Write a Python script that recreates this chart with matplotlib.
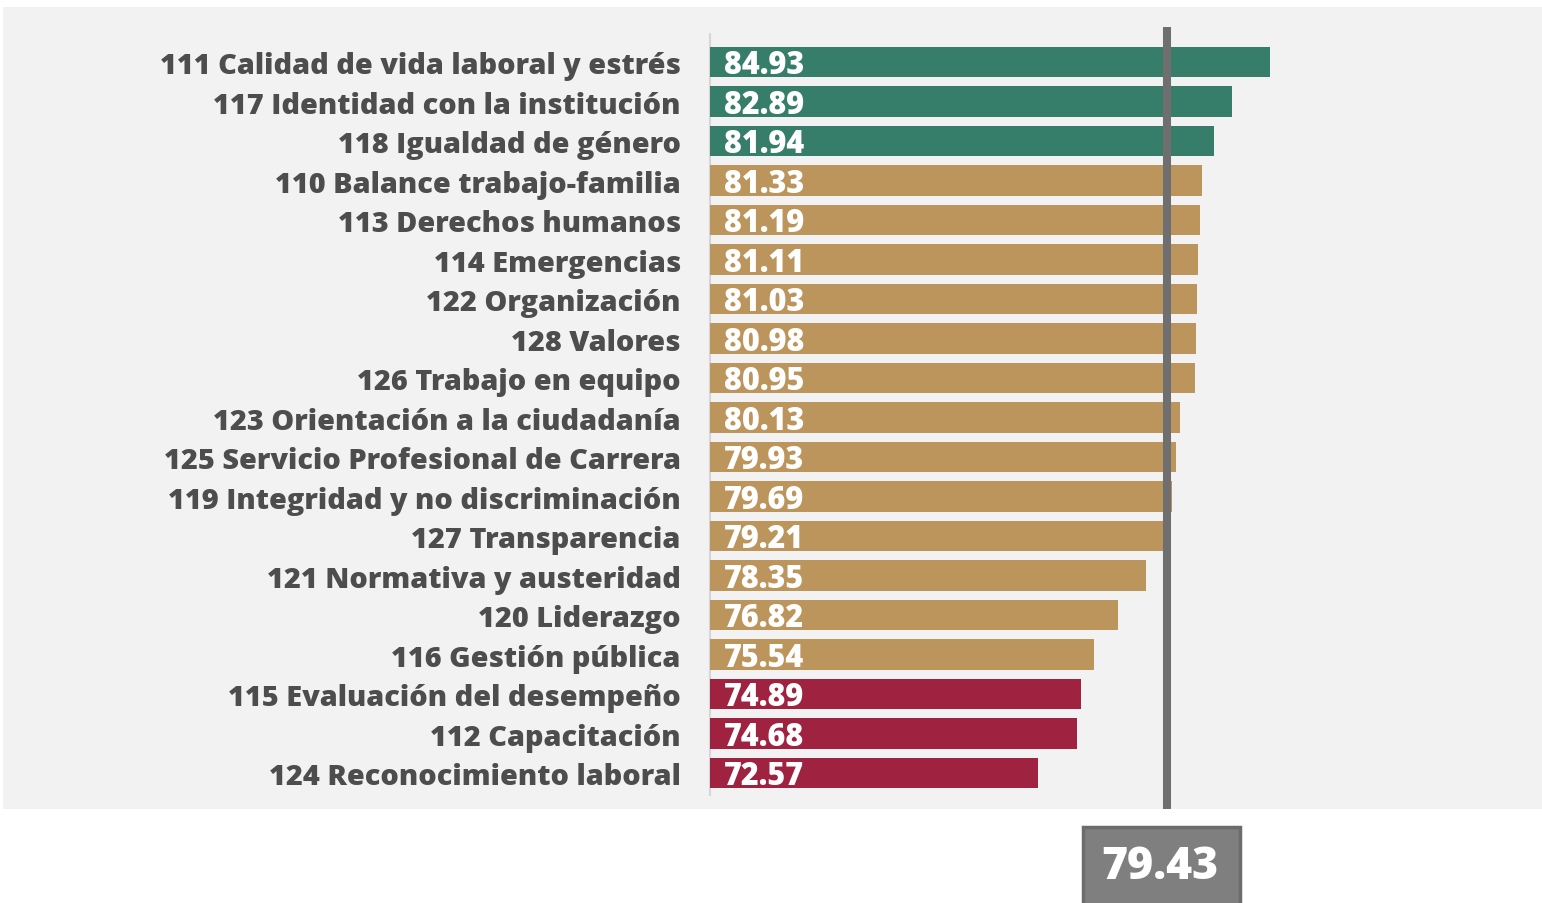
"""
Clima laboral: puntaje por factor, con el promedio general como linea de referencia.
"""

import matplotlib.pyplot as plt
from matplotlib.patches import Rectangle
from matplotlib.transforms import blended_transform_factory

# datos del grafico
factores = [
    "111 Calidad de vida laboral y estrés",
    "117 Identidad con la institución",
    "118 Igualdad de género",
    "110 Balance trabajo-familia",
    "113 Derechos humanos",
    "114 Emergencias",
    "122 Organización",
    "128 Valores",
    "126 Trabajo en equipo",
    "123 Orientación a la ciudadanía",
    "125 Servicio Profesional de Carrera",
    "119 Integridad y no discriminación",
    "127 Transparencia",
    "121 Normativa y austeridad",
    "120 Liderazgo",
    "116 Gestión pública",
    "115 Evaluación del desempeño",
    "112 Capacitación",
    "124 Reconocimiento laboral",
]
puntajes = [84.93, 82.89, 81.94, 81.33, 81.19, 81.11, 81.03, 80.98, 80.95,
            80.13, 79.93, 79.69, 79.21, 78.35, 76.82, 75.54, 74.89, 74.68, 72.57]
grupos = ["alto"] * 3 + ["medio"] * 13 + ["bajo"] * 3
promedio = 79.43

colores = {"alto": "#377e6a", "medio": "#bc955c", "bajo": "#9f2241"}
FUENTE = ["Open Sans", "DejaVu Sans"]

W, H = 1542, 904
fig = plt.figure(figsize=(W / 100, H / 100), dpi=100)
fig.patch.set_facecolor("white")

# panel gris de fondo
fig.patches.append(Rectangle((3 / W, 1 - 810 / H), (W - 3) / W, (810 - 8) / H,
                             transform=fig.transFigure, facecolor="#f2f2f2",
                             edgecolor="none", zorder=-10))

ax = fig.add_axes([710 / W, 1 - 810 / H, (W - 710) / W, (810 - 28) / H])
ax.set_facecolor("none")

y = list(range(len(factores)))
ax.barh(y, puntajes, height=0.78, color=[colores[g] for g in grupos], zorder=2)
ax.set_xlim(55.1, 99.43)
ax.set_ylim(18.91, -0.886)

# linea del eje izquierdo
ax.plot([55.1, 55.1], [-0.7, 18.55], color="#d6d6d6", lw=1.5, zorder=1, clip_on=False)

# linea del promedio
ax.axvline(promedio, color="#6f6f6f", lw=5.8, zorder=3)

for i, v in enumerate(puntajes):
    ax.text(55.1 + 0.75, i + 0.08, f"{v:.2f}", va="center", ha="left",
            color="white", fontsize=22, fontweight=800, family=FUENTE, zorder=4)

ax.set_yticks(y)
ax.set_yticklabels(factores, fontsize=20.8, fontweight=800, color="#4d4d4d",
                   family=FUENTE)
ax.tick_params(axis="y", length=0, pad=21)
ax.set_xticks([])
for s in ax.spines.values():
    s.set_visible(False)

# recuadro con el valor del promedio
tr = blended_transform_factory(ax.transData, ax.transAxes)
ax.add_patch(Rectangle((promedio - 4.45, -0.13), 8.36, 0.107, transform=tr,
                       facecolor="#7f7f7f", edgecolor="#6c6c6c", lw=2.5,
                       clip_on=False, zorder=5))
ax.text(promedio - 0.35, -0.074, f"{promedio:.2f}", transform=tr, ha="center",
        va="center", color="white", fontsize=32, fontweight=800,
        family=FUENTE, zorder=6)

fig.savefig("out.png", dpi=100)
